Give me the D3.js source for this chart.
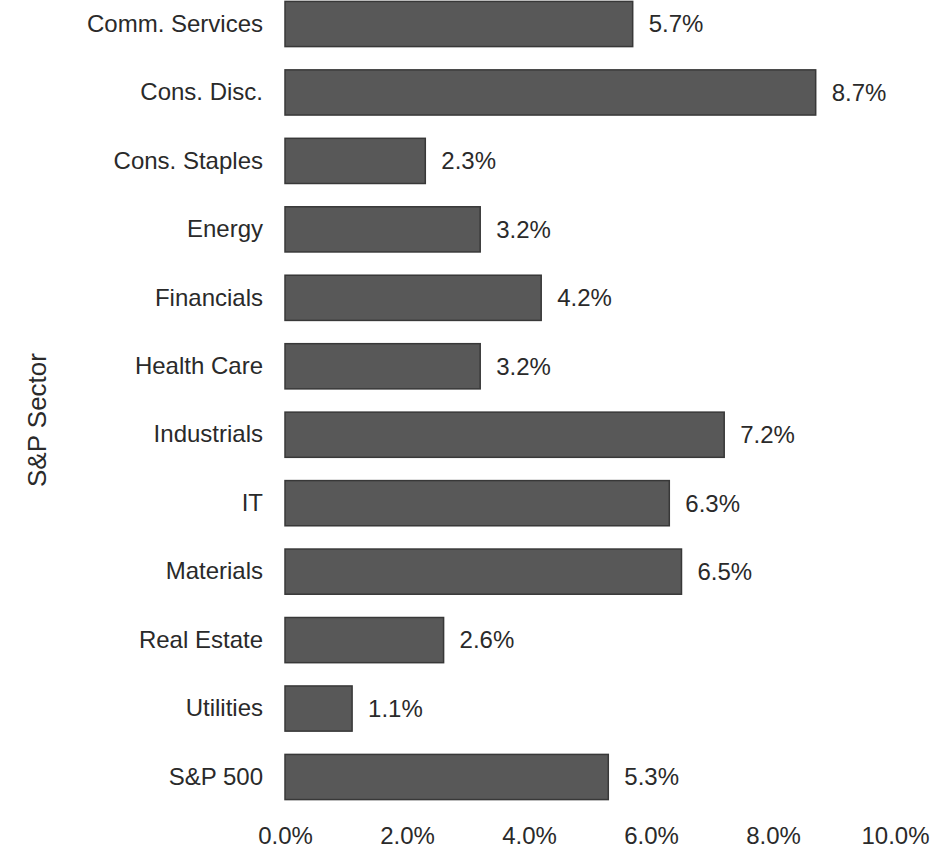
<!DOCTYPE html>
<html lang="en">
<head>
    <meta charset="UTF-8">
    <title>S&amp;P Sector</title>
    <script src="https://d3js.org/d3.v7.min.js"></script>
    <style>
        body { margin: 0; background: #fff; }
        text { font-family: "Liberation Sans", Arial, sans-serif; fill: #2a2a2a; }
    </style>
</head>
<body>
<script>
    let sectors = ["Comm. Services", "Cons. Disc.", "Cons. Staples", "Energy", "Financials",
        "Health Care", "Industrials", "IT", "Materials", "Real Estate", "Utilities", "S&P 500"];
    let values = [5.7, 8.7, 2.3, 3.2, 4.2, 3.2, 7.2, 6.3, 6.5, 2.6, 1.1, 5.3];
    let ticks = [0, 2, 4, 6, 8, 10];

    let width = 948, height = 854;

    let svg = d3.select('body').append('svg')
        .attr('width', width)
        .attr('height', height);

    let x = d3.scaleLinear().domain([0, 10]).range([285, 895]);
    let step = (777 - 24) / 11;
    let y = d3.scaleBand()
        .domain(sectors)
        .range([24 - step / 2, 777 + step / 2])
        .paddingInner(0.34)
        .paddingOuter(0.17);

    let data = sectors.map(function (s, i) { return {name: s, value: values[i]}; });

    svg.selectAll('rect.bar')
        .data(data)
        .enter()
        .append('rect')
        .attr('class', 'bar')
        .attr('x', x(0))
        .attr('y', function (d) { return y(d.name); })
        .attr('width', function (d) { return x(d.value) - x(0); })
        .attr('height', y.bandwidth())
        .style('fill', '#585858')
        .style('stroke', '#383838')
        .style('stroke-width', 1.5);

    svg.selectAll('text.val')
        .data(data)
        .enter()
        .append('text')
        .attr('class', 'val')
        .attr('x', function (d) { return x(d.value) + 16; })
        .attr('y', function (d) { return y(d.name) + y.bandwidth() / 2; })
        .attr('dy', '0.35em')
        .style('font-size', '24px')
        .text(function (d) { return d.value.toFixed(1) + '%'; });

    let yAxis = svg.append('g')
        .attr('transform', 'translate(' + x(0) + ',0)')
        .call(d3.axisLeft(y).tickSize(0).tickPadding(22));
    yAxis.select('.domain').remove();
    yAxis.selectAll('text').style('font-size', '24px').attr('fill', '#2a2a2a');

    let xAxis = svg.append('g')
        .attr('transform', 'translate(0,821)')
        .call(d3.axisBottom(x).tickValues(ticks).tickSize(0).tickPadding(6)
            .tickFormat(function (d) { return d.toFixed(1) + '%'; }));
    xAxis.select('.domain').remove();
    xAxis.selectAll('text').style('font-size', '24px').attr('fill', '#2a2a2a');

    svg.append('text')
        .attr('transform', 'translate(46,420) rotate(-90)')
        .attr('text-anchor', 'middle')
        .style('font-size', '26px')
        .text('S&P Sector');
</script>
</body>
</html>
